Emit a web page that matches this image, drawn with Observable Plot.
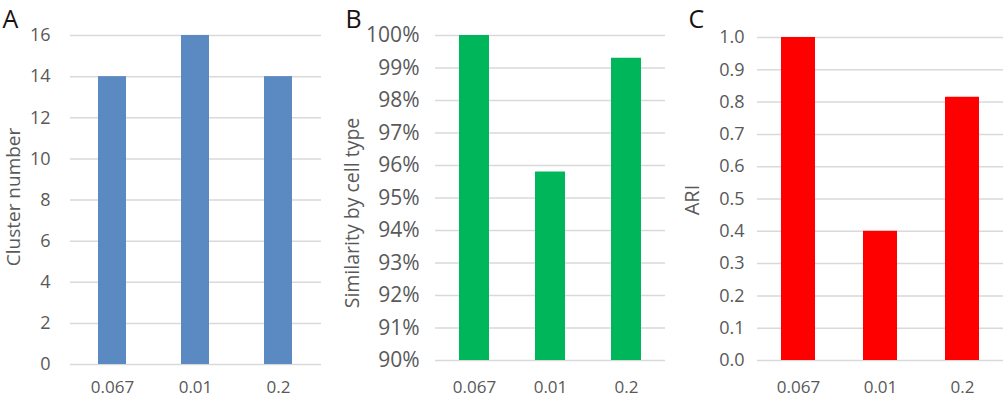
<!DOCTYPE html>
<html>
<head>
<meta charset="utf-8">
<script src="https://cdn.jsdelivr.net/npm/d3@7"></script>
<script src="https://cdn.jsdelivr.net/npm/@observablehq/plot@0.6"></script>
<style>
  html, body { margin: 0; padding: 0; background: #fff; }
  #wrap { position: relative; width: 1005px; height: 397px; overflow: hidden; font-family: "Open Sans", sans-serif; }
  .panel { position: absolute; top: 0; }
  .panel svg { overflow: visible; }
</style>
</head>
<body>
<div id="wrap"></div>
<script>
// ---- data ----
const categories = ["0.067", "0.01", "0.2"];
const clusterNumber = [14, 16, 14];
const similarity = [1.0, 0.958, 0.993];
const ari = [1.0, 0.40, 0.815];

const clusterTicks = [0, 2, 4, 6, 8, 10, 12, 14, 16];
const similarityTicks = [0.90, 0.91, 0.92, 0.93, 0.94, 0.95, 0.96, 0.97, 0.98, 0.99, 1.00];
const ariTicks = [0.0, 0.1, 0.2, 0.3, 0.4, 0.5, 0.6, 0.7, 0.8, 0.9, 1.0];

const panelLetters = ["A", "B", "C"];
const yTitles = ["Cluster number", "Similarity by cell type", "ARI"];
const similarityBase = 0.90;

const FONT = "Open Sans, sans-serif";
const GRID = "#d9d9d9";
const TICK = "#595959";

function rows(values) {
  return categories.map((c, i) => ({cat: c, v: values[i]}));
}

function panel({left, width, margins, values, ticks, domain, base, color, fmt,
                yFont, pad, yPad, letter, letterDx, letterDy, title, titleFont, titleDx, titleDy, xPad}) {
  const data = rows(values);
  const svg = Plot.plot({
    width, height: 397,
    marginLeft: margins[0], marginRight: margins[1], marginTop: margins[2], marginBottom: margins[3],
    style: {fontFamily: FONT, background: "transparent", overflow: "visible"},
    x: {domain: categories, paddingInner: pad, paddingOuter: pad / 2},
    y: {domain, ticks},
    marks: [
      Plot.gridY(ticks, {stroke: GRID, strokeOpacity: 1, strokeWidth: 1.5}),
      Plot.barY(data, {x: "cat", y1: base, y2: "v", fill: color}),
      Plot.axisY(ticks, {tickSize: 0, tickPadding: yPad, tickFormat: fmt, fontSize: yFont, fill: TICK, label: null}),
      Plot.axisX({tickSize: 0, tickPadding: xPad, fontSize: 17, fill: TICK, label: null}),
      Plot.text([title], {frameAnchor: "left", rotate: -90, dx: titleDx, dy: titleDy,
        textAnchor: "middle", lineAnchor: "top", fontSize: titleFont, fill: TICK}),
      Plot.text([letter], {frameAnchor: "top-left", dx: letterDx, dy: letterDy,
        textAnchor: "start", lineAnchor: "middle", fontSize: 25, fill: "#1a1212"})
    ]
  });
  const div = document.createElement("div");
  div.className = "panel";
  div.style.left = left + "px";
  div.appendChild(svg);
  document.getElementById("wrap").appendChild(div);
}

panel({
  left: 0, width: 330, margins: [70, 9, 35, 33],
  values: clusterNumber, ticks: clusterTicks, domain: [0, 16], base: 0,
  color: "#5b8ac3", fmt: d => String(d), yFont: 18, pad: 0.66, yPad: 20,
  letter: panelLetters[0], letterDx: -68, letterDy: -16,
  title: yTitles[0], titleFont: 19, titleDx: -64, titleDy: -3, xPad: 16
});

panel({
  left: 330, width: 340, margins: [105, 5, 35, 37],
  values: similarity, ticks: similarityTicks, domain: [0.90, 1.0], base: similarityBase,
  color: "#00b65a", fmt: d => Math.round(d * 100) + "%", yFont: 21, pad: 0.6, yPad: 16,
  letter: panelLetters[1], letterDx: -90, letterDy: -16,
  title: yTitles[1], titleFont: 19.5, titleDx: -90, titleDy: 15, xPad: 20
});

panel({
  left: 670, width: 335, margins: [87, 2, 37, 37],
  values: ari, ticks: ariTicks, domain: [0, 1], base: 0,
  color: "#ff0000", fmt: d3.format(".1f"), yFont: 18, pad: 0.59, yPad: 13,
  letter: panelLetters[2], letterDx: -69, letterDy: -18,
  title: yTitles[2], titleFont: 20, titleDx: -73, titleDy: 1, xPad: 20
});
</script>
</body>
</html>
